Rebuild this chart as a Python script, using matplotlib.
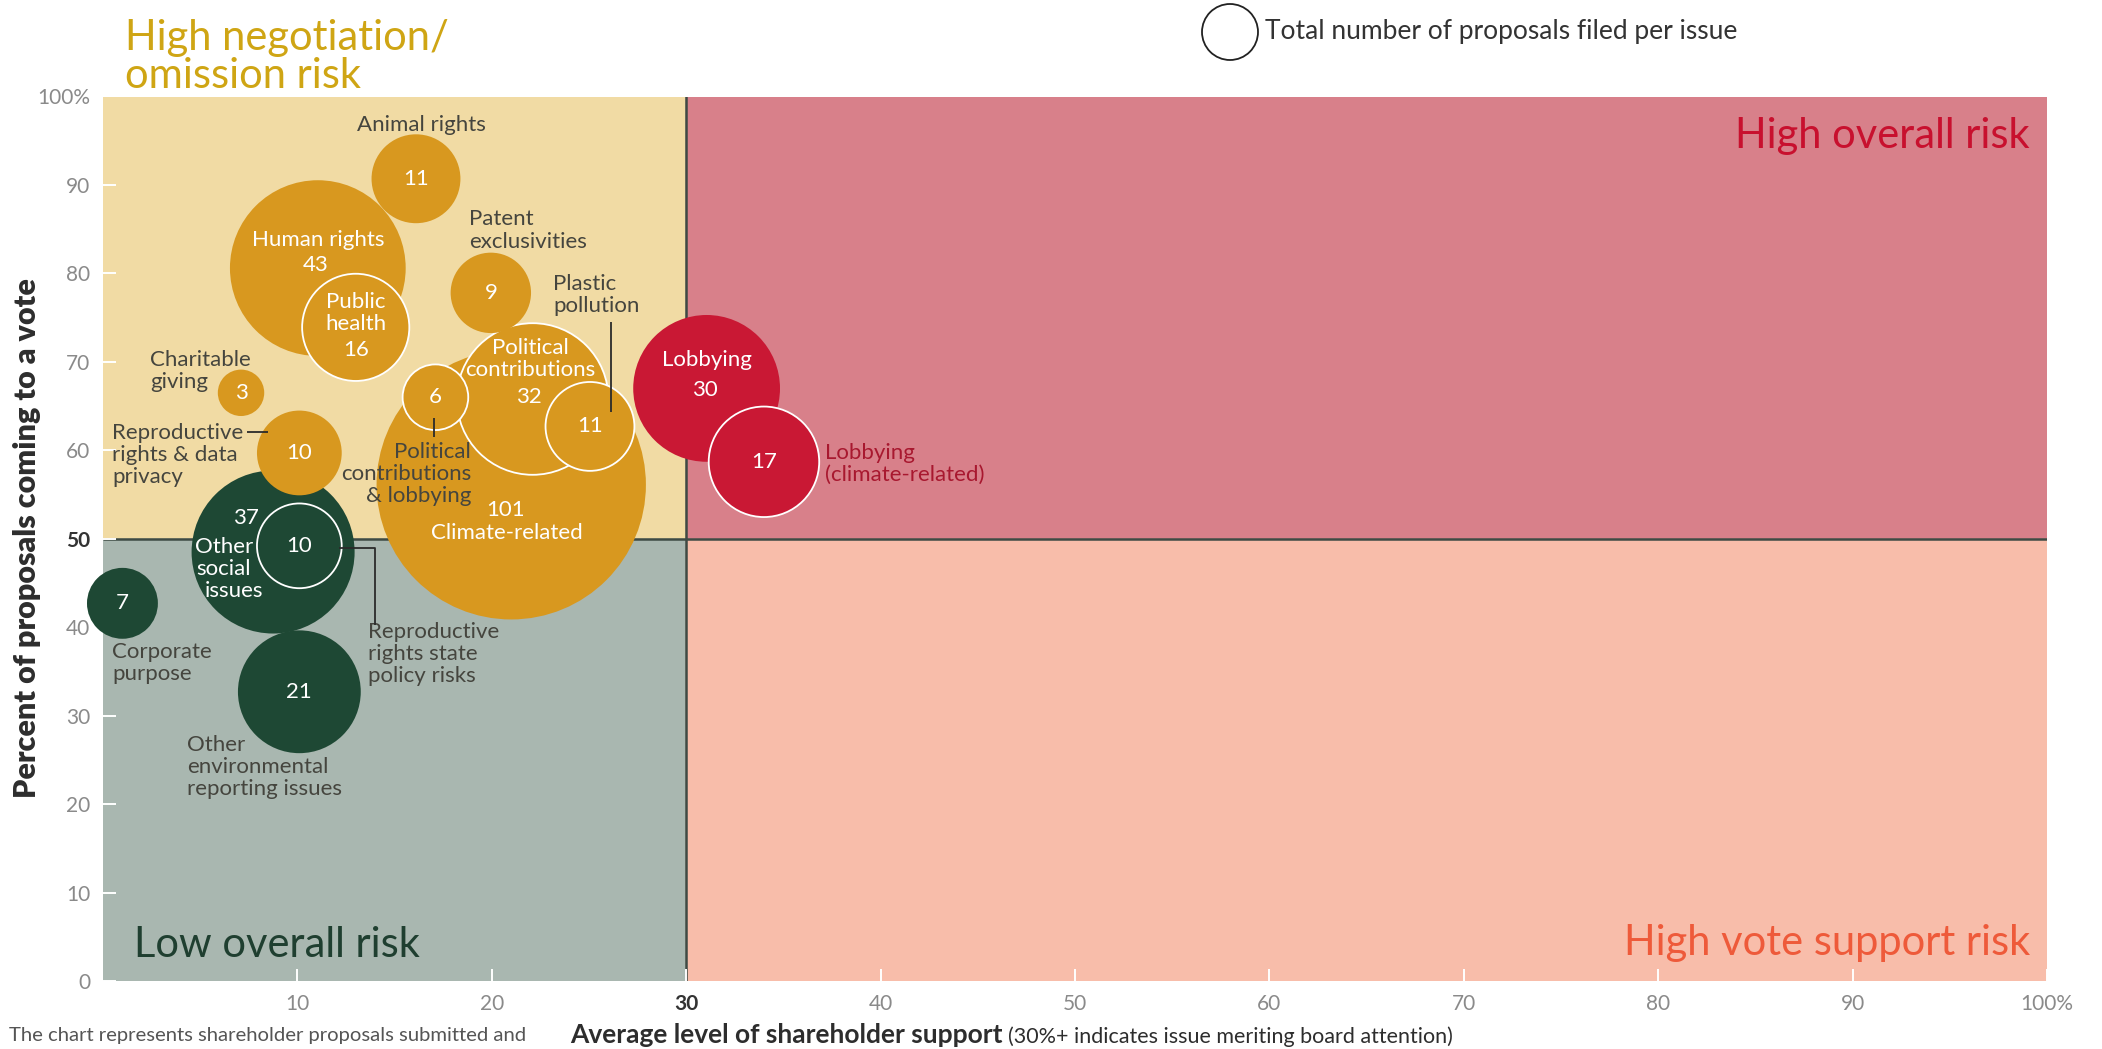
import numpy as np
import matplotlib
matplotlib.use("Agg")
import matplotlib.pyplot as plt
from matplotlib.patches import Rectangle, Ellipse
from matplotlib import font_manager as fm

# ---------------------------------------------------------------- data
issues = [
    "Climate-related", "Political contributions", "Political contributions & lobbying",
    "Plastic pollution", "Human rights", "Public health", "Animal rights",
    "Patent exclusivities", "Charitable giving", "Other social issues",
    "Reproductive rights state policy risks", "Reproductive rights & data privacy",
    "Corporate purpose", "Other environmental reporting issues",
    "Lobbying", "Lobbying (climate-related)",
]
# average shareholder support (%)
support = [21.0, 22.1, 17.1, 25.05, 11.05, 13.0, 16.1, 19.95, 7.1, 8.75,
           10.1, 10.1, 1.0, 10.1, 31.05, 34.0]
# share of proposals coming to a vote (%)
vote = [56.1, 65.8, 66.0, 62.7, 80.6, 73.9, 90.7, 77.8, 66.5, 48.5,
        49.2, 59.7, 42.7, 32.7, 67.0, 58.7]
# total number of proposals filed
filed = [101, 32, 6, 11, 43, 16, 11, 9, 3, 37, 10, 10, 7, 21, 30, 17]
# issues drawn as a subset ring on top of a larger bubble
ringed = ["Political contributions", "Political contributions & lobbying",
          "Plastic pollution", "Public health",
          "Reproductive rights state policy risks", "Lobbying (climate-related)"]

x_ticks = [10, 20, 30, 40, 50, 60, 70, 80, 90, 100]
x_tick_labels = ["10", "20", "30", "40", "50", "60", "70", "80", "90", "100%"]
y_ticks = [0, 10, 20, 30, 40, 50, 60, 70, 80, 90, 100]
y_tick_labels = ["0", "10", "20", "30", "40", "50", "60", "70", "80", "90", "100%"]

SUPPORT_CUT = 30
VOTE_CUT = 50

# ---------------------------------------------------------------- style
W, H, DPI = 2102, 1049, 100
installed = {f.name for f in fm.fontManager.ttflist}
BODY = "Lato" if "Lato" in installed else "DejaVu Sans"

C_NEG_BG = "#F1DBA4"
C_HIGH_BG = "#D8808A"
C_LOW_BG = "#A9B7B0"
C_VOTE_BG = "#F8BDAA"
C_ORANGE = "#D8981F"
C_GREEN = "#1E4834"
C_RED = "#C91834"
C_DIVIDER = "#3E4A44"
C_LABEL = "#45453E"
C_TICK = "#8A8A8A"

PX_PER_SQRT = 13.4  # bubble radius in pixels per sqrt(count)
LABEL_SIZE = 16
STEP = 2.5          # line step of stacked labels, in % of the vote axis

fig = plt.figure(figsize=(W / DPI, H / DPI), dpi=DPI)
fig.patch.set_facecolor("white")

ax_l, ax_r, ax_t, ax_b = 103, 2047, 96.5, 981
ax = fig.add_axes([ax_l / W, 1 - ax_b / H, (ax_r - ax_l) / W, (ax_b - ax_t) / H])
ax.set_xlim(0, 100)
ax.set_ylim(0, 100)
for s in ax.spines.values():
    s.set_visible(False)

px_x = (ax_r - ax_l) / 100.0
px_y = (ax_b - ax_t) / 100.0

# quadrant backgrounds
ax.add_patch(Rectangle((0, VOTE_CUT), SUPPORT_CUT, 100 - VOTE_CUT, color=C_NEG_BG, zorder=0))
ax.add_patch(Rectangle((SUPPORT_CUT, VOTE_CUT), 100 - SUPPORT_CUT, 100 - VOTE_CUT, color=C_HIGH_BG, zorder=0))
ax.add_patch(Rectangle((0, 0), SUPPORT_CUT, VOTE_CUT, color=C_LOW_BG, zorder=0))
ax.add_patch(Rectangle((SUPPORT_CUT, 0), 100 - SUPPORT_CUT, VOTE_CUT, color=C_VOTE_BG, zorder=0))
ax.plot([0, 100], [VOTE_CUT, VOTE_CUT], color=C_DIVIDER, lw=1.8, zorder=1, solid_capstyle="butt")
ax.plot([SUPPORT_CUT, SUPPORT_CUT], [0, 100], color=C_DIVIDER, lw=1.8, zorder=1, solid_capstyle="butt")

# ticks
ax.set_xticks(x_ticks, x_tick_labels)
ax.set_yticks(y_ticks, y_tick_labels)
ax.tick_params(direction="in", color="white", length=9, width=1.4, pad=9,
               labelsize=15, labelcolor=C_TICK)
for lbl in ax.get_xticklabels() + ax.get_yticklabels():
    lbl.set_fontfamily(BODY)
for lbl, v in zip(ax.get_xticklabels(), x_ticks):
    if v == SUPPORT_CUT:
        lbl.set_fontweight("bold")
        lbl.set_color("#333333")
for lbl, v in zip(ax.get_yticklabels(), y_ticks):
    if v == VOTE_CUT:
        lbl.set_fontweight("bold")
        lbl.set_color("#333333")


def bubble_color(x, y):
    if x >= SUPPORT_CUT:
        return C_RED
    if y >= VOTE_CUT:
        return C_ORANGE
    return C_GREEN


draw_order = [
    "Climate-related", "Political contributions", "Political contributions & lobbying",
    "Plastic pollution", "Human rights", "Public health", "Animal rights",
    "Patent exclusivities", "Charitable giving", "Other social issues",
    "Reproductive rights state policy risks", "Reproductive rights & data privacy",
    "Corporate purpose", "Other environmental reporting issues",
    "Lobbying", "Lobbying (climate-related)",
]
for z, name in enumerate(draw_order):
    i = issues.index(name)
    r = PX_PER_SQRT * np.sqrt(filed[i])
    ring = name in ringed
    e = Ellipse((support[i], vote[i]), 2 * r / px_x, 2 * r / px_y,
                facecolor=bubble_color(support[i], vote[i]),
                edgecolor="white" if ring else "none", lw=1.3 if ring else 0,
                zorder=3 + z * 0.01, clip_on=False)
    ax.add_patch(e)


def stack(x, y_first, lines, step=STEP, **kw):
    """Draw a multi-line label one line at a time, top line at y_first."""
    xs = x if isinstance(x, (list, tuple)) else [x] * len(lines)
    for k, (xx, s) in enumerate(zip(xs, lines)):
        ax.text(xx, y_first - k * step, s, **kw)


# numbers / names inside bubbles (white)
inner = dict(color="white", fontsize=LABEL_SIZE, family=BODY, ha="center", va="center",
             zorder=5)


def centre(name):
    i = issues.index(name)
    return support[i], vote[i], str(filed[i])


for name in ["Animal rights", "Patent exclusivities", "Charitable giving",
             "Reproductive rights & data privacy", "Reproductive rights state policy risks",
             "Corporate purpose", "Other environmental reporting issues",
             "Political contributions & lobbying", "Plastic pollution",
             "Lobbying (climate-related)"]:
    x, y, n = centre(name)
    ax.text(x, y, n, **inner)

x, y, n = centre("Human rights")
ax.text(x, 83.8, "Human rights", **inner)
ax.text(x - 0.1, 81.0, n, **inner)
x, y, n = centre("Public health")
stack(x, 76.8, ["Public", "health"], **inner)
ax.text(x, 71.3, n, **inner)
x, y, n = centre("Political contributions")
stack(22.0, 71.6, ["Political", "contributions"], **inner)
ax.text(21.9, 66.0, n, **inner)
x, y, n = centre("Climate-related")
ax.text(20.7, 53.3, n, **inner)
ax.text(20.8, 50.65, "Climate-related", **inner)
x, y, n = centre("Lobbying")
ax.text(x, 70.2, "Lobbying", **inner)
ax.text(x - 0.1, 66.8, n, **inner)
x, y, n = centre("Other social issues")
ax.text(7.33, 52.3, n, **inner)
stack([6.25, 6.2, 6.75], 49.1, ["Other", "social", "issues"], **inner)

# outside labels
outer = dict(color=C_LABEL, fontsize=LABEL_SIZE, family=BODY, va="center", zorder=6)
ax.text(16.4, 96.8, "Animal rights", ha="center", **outer)
stack(18.83, 86.1, ["Patent", "exclusivities"], ha="left", **outer)
stack(23.15, 78.8, ["Plastic", "pollution"], ha="left", **outer)
stack(2.42, 70.2, ["Charitable", "giving"], ha="left", **outer)
stack(0.46, 62.0, ["Reproductive", "rights & data", "privacy"], ha="left", **outer)
stack(18.93, 59.8, ["Political", "contributions", "& lobbying"], ha="right", **outer)
stack(13.63, 39.45, ["Reproductive", "rights state", "policy risks"], ha="left", **outer)
stack(0.46, 37.2, ["Corporate", "purpose"], ha="left", **outer)
stack(4.32, 26.7, ["Other", "environmental", "reporting issues"], ha="left", **outer)
stack(37.14, 59.75, ["Lobbying", "(climate-related)"], ha="left",
      **{**outer, "color": "#A8182F"})

# leader lines
lead = dict(color="#2B2B2B", lw=1.3, zorder=6, solid_capstyle="butt")
ax.plot([26.13, 26.13], [74.5, 64.3], **lead)
ax.plot([7.4, 8.5], [62.07, 62.07], **lead)
ax.plot([17.03, 17.03], [63.65, 61.5], **lead)
ax.plot([12.14, 13.99, 13.99], [48.95, 48.95, 40.25], **lead)


# quadrant titles (figure pixel positions)
def ftext(px, py, s, **kw):
    return fig.text(px / W, 1 - py / H, s, **kw)


TITLE = 30
ftext(125, 50, "High negotiation/", fontsize=TITLE, family=BODY, color="#CFA514", va="baseline")
ftext(125, 88, "omission risk", fontsize=TITLE, family=BODY, color="#CFA514", va="baseline")
ftext(2030, 148, "High overall risk", fontsize=TITLE, family=BODY, color="#C8102E",
      ha="right", va="baseline")
ftext(2030, 955, "High vote support risk", fontsize=TITLE, family=BODY, color="#EE5A3A",
      ha="right", va="baseline")
ftext(134, 957, "Low overall risk", fontsize=TITLE, family=BODY, color="#1F3F30", va="baseline")

# size legend
fig.add_artist(Ellipse((1230 / W, 1 - 32 / H), 56 / W, 56 / H, transform=fig.transFigure,
                       facecolor="none", edgecolor="#222222", lw=1.3))
ftext(1265, 32, "Total number of proposals filed per issue", fontsize=19, family=BODY,
      color="#333333", va="center")

# axis titles
ftext(27, 538, "Percent of proposals coming to a vote", rotation=90, fontsize=22,
      family=BODY, fontweight="heavy", color="#2D2D2D", ha="center", va="center")
xl = ftext(570, 1043, "Average level of shareholder support", fontsize=19, family=BODY,
           fontweight="bold", color="#2D2D2D", va="baseline")
fig.canvas.draw()
bb = xl.get_window_extent()
fig.text((bb.x1 + 6) / W, 1 - 1043 / H, "(30%+ indicates issue meriting board attention)",
         fontsize=15.5, family=BODY, color="#2D2D2D", va="baseline")

# footnote
ftext(9, 1041, "The chart represents shareholder proposals submitted and", fontsize=14.6,
      family=BODY, color="#555555", va="baseline")

fig.savefig("out.png", dpi=DPI, facecolor="white")
